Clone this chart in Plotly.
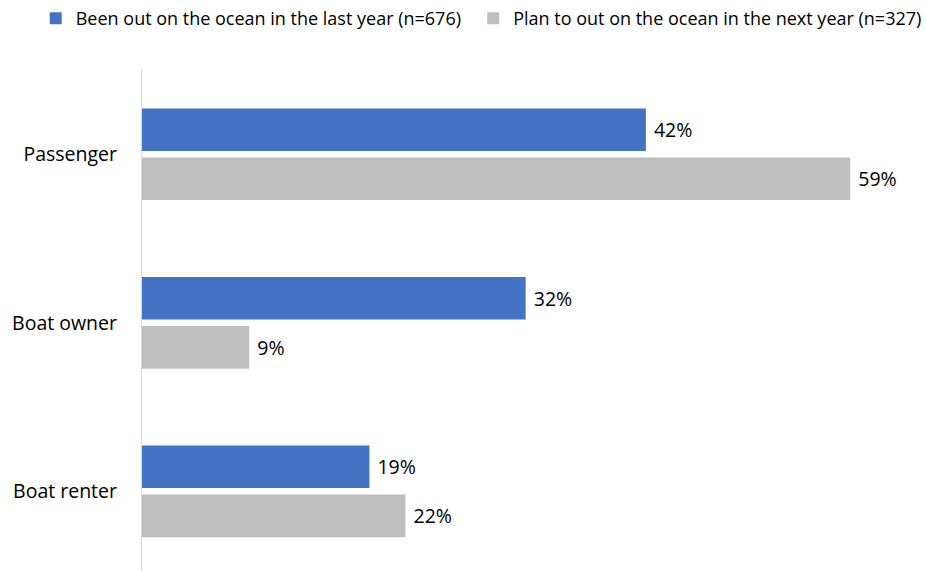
import plotly.graph_objects as go

categories = ["Passenger", "Boat owner", "Boat renter"]
series_names = ["Been out on the ocean in the last year (n=676)",
                "Plan to out on the ocean in the next year (n=327)"]
last_year = [42, 32, 19]
next_year = [59, 9, 22]
colors = ["#4472C4", "#BFBFBF"]

FONT = "Open Sans"

fig = go.Figure()
for i, (name, vals, col) in enumerate(zip(series_names, [last_year, next_year], colors)):
    fig.add_trace(go.Bar(
        y=categories, x=vals, orientation="h", name=name,
        marker=dict(color=col, line=dict(width=0)),
        text=[f" {v}%" for v in vals], textposition="outside",
        textfont=dict(family=FONT, size=19.5, color="#000000"),
        cliponaxis=False,
        legend="legend" if i == 0 else "legend2",
    ))

legend_common = dict(orientation="h", xref="container", yref="container",
                     y=1.0, xanchor="left", yanchor="top",
                     font=dict(family=FONT, size=18, color="#000000"),
                     bgcolor="rgba(0,0,0,0)")

fig.update_layout(
    width=926, height=571,
    margin=dict(l=141, r=20, t=70, b=0),
    paper_bgcolor="white", plot_bgcolor="white",
    barmode="group", bargap=0.418, bargroupgap=0.13,
    font=dict(family=FONT, color="#000000"),
    showlegend=True,
    legend=dict(x=0.0386, **legend_common),
    legend2=dict(x=0.511, **legend_common),
    xaxis=dict(range=[0, 63.64], showgrid=False, zeroline=False,
               showticklabels=False, showline=False, automargin=False),
    yaxis=dict(type="category", range=[2.473, -0.5], showgrid=False,
               zeroline=False, showline=False, automargin=False,
               tickfont=dict(family=FONT, size=19.5, color="#000000"),
               ticks="", ticklabelstandoff=23),
)
fig.add_shape(type="line", xref="x", yref="paper", x0=0, x1=0, y0=0, y1=1,
              line=dict(color="#D9D9D9", width=2))

fig.write_html("out.html", config={"displayModeBar": False},
               post_script="document.body.style.margin='0';document.body.style.padding='0';")
